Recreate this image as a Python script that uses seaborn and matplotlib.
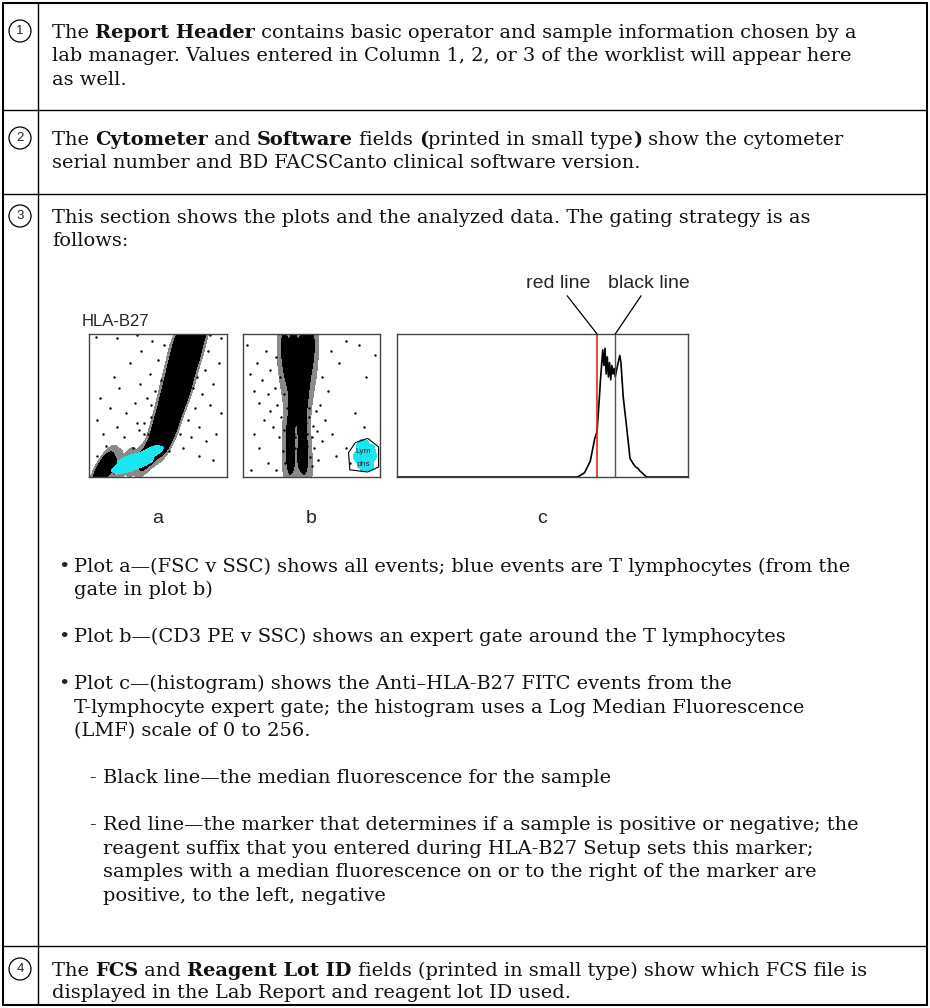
import numpy as np
import pandas as pd
import matplotlib
matplotlib.use("Agg")
import matplotlib.pyplot as plt
import seaborn as sns
from matplotlib.patches import Circle, Rectangle
from matplotlib.colors import ListedColormap

W, H = 930, 1008
sns.set_theme(style="white")
SERIF = ['DejaVu Serif', 'DejaVu Sans']
SANS = ['Liberation Sans', 'DejaVu Sans']
NARROW = ['Liberation Sans Narrow', 'Liberation Sans', 'DejaVu Sans']
plt.rcParams['font.family'] = SERIF

# ---------------- data ----------------
# Plot a: FSC-H vs SSC-A (0-100 scale)
a_dense_x = [66, 74, 81, 65, 72, 79, 64, 71, 77, 62, 69, 76, 61, 67, 74, 59, 66, 72,
             58, 64, 70, 56, 63, 69, 55, 61, 67, 53, 59, 64, 51, 57, 62, 50, 55, 60,
             48, 53, 58, 46, 51, 56, 43, 48, 35, 42, 26, 9, 12, 17, 8, 11]
a_dense_y = [100, 100, 100, 94, 94, 94, 88, 88, 88, 82, 82, 82, 76, 76, 76, 70, 70, 70,
             64, 64, 64, 58, 58, 58, 52, 52, 52, 46, 46, 46, 40, 40, 40, 34, 34, 34,
             28, 28, 28, 22, 22, 22, 17, 17, 12, 12, 9, 7, 7, 7, 5, 5]
a_sparse_x = [6, 8, 10, 12, 15, 18, 20, 22, 25, 27, 30, 32, 33, 35, 37, 38, 40, 42, 44, 45,
              46, 48, 50, 50, 52, 54, 55, 57, 60, 62, 64, 70, 72, 75, 77, 78, 80, 82, 84, 85,
              86, 88, 90, 92, 94, 96, 66, 74, 58, 68, 80, 90, 6, 8, 12, 18, 24, 30, 5, 20,
              35, 88, 96, 40, 45, 52, 36, 43]
a_sparse_y = [40, 55, 30, 22, 48, 70, 35, 62, 28, 45, 80, 20, 52, 38, 65, 88, 30, 55, 72, 42,
              95, 60, 22, 82, 68, 92, 30, 75, 40, 86, 45, 55, 40, 62, 48, 70, 35, 58, 75, 25,
              88, 50, 65, 30, 80, 45, 30, 28, 18, 20, 15, 12, 15, 10, 4, 3, 4, 5, 98, 97,
              99, 99, 97, 38, 50, 48, 33, 30]
a_cyan_x = [22, 25, 28, 31, 34, 37, 40, 43, 46, 48, 26, 30, 34, 38, 42, 45, 24, 29, 33, 37, 41]
a_cyan_y = [7, 8, 9, 10, 11, 12, 13, 15, 16, 18, 12, 13, 14, 15, 17, 19, 5, 6, 7, 9, 10]

# Plot b: CD3 PE-A vs SSC-A (0-100 scale)
b_dense_x = [30, 37, 44, 51, 29, 36, 43, 50, 30, 37, 44, 50, 31, 38, 45, 50, 32, 39, 46,
             33, 40, 46, 35, 42, 47, 37, 44, 38, 45, 40, 35, 43, 34, 44, 33, 43, 34, 44,
             35, 45, 33, 39, 45, 35, 41, 47]
b_dense_y = [100, 100, 100, 100, 94, 94, 94, 94, 88, 88, 88, 88, 82, 82, 82, 82, 76, 76, 76,
             70, 70, 70, 64, 64, 64, 58, 58, 52, 52, 46, 40, 40, 34, 34, 28, 28, 22, 22,
             16, 16, 10, 10, 10, 5, 5, 5]
b_sparse_x = [5, 8, 10, 12, 14, 15, 17, 18, 20, 20, 22, 23, 24, 25, 26, 27, 28, 29, 30, 30,
              31, 32, 33, 34, 35, 36, 37, 38, 39, 40, 41, 42, 43, 44, 45, 46, 47, 48, 49, 50,
              51, 52, 53, 54, 55, 56, 58, 60, 62, 65, 70, 75, 82, 90, 96, 68, 78, 88, 12, 18,
              8, 6, 24, 58, 64, 75, 85, 3, 33, 36, 38, 41, 43, 45, 47, 37, 42, 48, 35, 44, 50]
b_sparse_y = [72, 60, 80, 52, 68, 40, 88, 58, 46, 75, 35, 62, 84, 50, 28, 70, 42, 18, 58, 33,
              10, 48, 25, 38, 15, 45, 30, 20, 40, 12, 35, 24, 44, 17, 30, 38, 22, 42, 14, 28,
              36, 20, 46, 32, 12, 50, 25, 40, 60, 30, 80, 20, 45, 70, 85, 15, 10, 35, 20, 10,
              30, 5, 5, 70, 88, 95, 92, 92, 12, 20, 28, 18, 26, 10, 30, 36, 42, 48, 5, 3, 8]
b_cyan_x = [83, 86, 89, 92, 95, 85, 88, 91, 94, 87, 90, 93]
b_cyan_y = [14, 10, 17, 9, 15, 20, 6, 12, 19, 23, 22, 8]
gate_x = [77, 82, 91, 99, 99, 91, 78]
gate_y = [17, 24, 27, 21, 7, 3.5, 5]

# Plot c: histogram, LMF scale 0-256
c_lmf = [0, 159, 165, 170, 174, 176, 178, 179, 181, 182, 183, 184, 185, 186, 187, 188, 189,
         190, 191, 192, 194, 196, 197, 199, 202, 205, 208, 210, 212, 214, 215.5, 218, 220, 256]
c_count = [0, 0, 3, 11, 27, 32, 55, 68, 89, 78, 90, 72, 84, 70, 80, 68, 78,
           72, 76, 70, 78, 85, 80, 56, 35, 13, 9, 7, 6, 4, 3, 1, 0, 0]
red_marker = 176
median_lmf = 192

# ---------------- text ----------------
rows = [
    [[("The ", 0), ("Report Header", 1), (" contains basic operator and sample information chosen by a", 0)],
     [("lab manager. Values entered in Column 1, 2, or 3 of the worklist will appear here", 0)],
     [("as well.", 0)]],
    [[("The ", 0), ("Cytometer", 1), (" and ", 0), ("Software", 1), (" fields ", 0), ("(", 1),
      ("printed in small type", 0), (")", 1), (" show the cytometer", 0)],
     [("serial number and BD FACSCanto clinical software version.", 0)]],
    [[("This section shows the plots and the analyzed data. The gating strategy is as", 0)],
     [("follows:", 0)]],
    [[("The ", 0), ("FCS", 1), (" and ", 0), ("Reagent Lot ID", 1),
      (" fields (printed in small type) show which FCS file is", 0)],
     [("displayed in the Lab Report and reagent lot ID used.", 0)]],
]
bullets = [
    ("•", ["Plot a—(FSC v SSC) shows all events; blue events are T lymphocytes (from the",
           "gate in plot b)"]),
    ("•", ["Plot b—(CD3 PE v SSC) shows an expert gate around the T lymphocytes"]),
    ("•", ["Plot c—(histogram) shows the Anti–HLA-B27 FITC events from the",
           "T-lymphocyte expert gate; the histogram uses a Log Median Fluorescence",
           "(LMF) scale of 0 to 256."]),
    ("-", ["Black line—the median fluorescence for the sample"]),
    ("-", ["Red line—the marker that determines if a sample is positive or negative; the",
           "reagent suffix that you entered during HLA-B27 Setup sets this marker;",
           "samples with a median fluorescence on or to the right of the marker are",
           "positive, to the left, negative"]),
]

# ---------------- layout ----------------
TOP, BOT, LEFT, RIGHT, DIV = 3, 1005, 3, 927, 38
row_lines = [110, 194, 946]
row_text_y = [[31, 54.5, 78], [138, 161.5], [216, 239.5], [969, 991]]
bullet_y = [[565, 588.5], [635.5], [682.5, 706, 729.5], [776.5], [823.5, 847, 870.5, 894]]
TX = 52
BX, BTX = 58, 74
DX, DTX = 89, 103

fig = plt.figure(figsize=(W / 100, H / 100), dpi=100)
bg = fig.add_axes([0, 0, 1, 1])
bg.set_xlim(0, W)
bg.set_ylim(H, 0)
bg.axis('off')
renderer = fig.canvas.get_renderer()


def seg_width(txt, size, bold):
    kw = dict(fontsize=size, fontweight='bold' if bold else 'normal', family=SERIF)
    t1 = bg.text(0, 0, '|' + txt + '|', **kw)
    t2 = bg.text(0, 0, '||', **kw)
    w = t1.get_window_extent(renderer).width - t2.get_window_extent(renderer).width
    t1.remove()
    t2.remove()
    return w


# fit body size so the first line spans the same width as in the reference
w10 = sum(seg_width(t, 10, b) for t, b in rows[0][0])
FS = 10 * 806 / w10
BASE = 0.35 * FS * 100 / 72  # offset center -> baseline in px


def draw_line(x, yc, segs):
    for txt, bold in segs:
        bg.text(x, yc + BASE, txt, fontsize=FS, fontweight='bold' if bold else 'normal',
                family=SERIF, va='baseline', ha='left', color='#111111')
        x += seg_width(txt, FS, bold)


for r, ys in zip(rows, row_text_y):
    for segs, y in zip(r, ys):
        draw_line(TX, y, segs)

for (mark, lines), ys in zip(bullets, bullet_y):
    mx, tx = (BX, BTX) if mark == "•" else (DX, DTX)
    bg.text(mx, ys[0] + BASE, mark, fontsize=FS, family=SERIF, va='baseline', ha='left')
    for ln, y in zip(lines, ys):
        draw_line(tx, y, [(ln, 0)])

# table frame
bg.add_patch(Rectangle((LEFT, TOP), RIGHT - LEFT, BOT - TOP, fill=False, lw=1.5, ec='black'))
bg.plot([DIV, DIV], [TOP, BOT], color='black', lw=1.0)
for y in row_lines:
    bg.plot([LEFT, RIGHT], [y, y], color='black', lw=1.0)

# circled numbers
for i, ys in enumerate(row_text_y):
    cy = ys[0]
    bg.add_patch(Circle((20, cy), 11, fill=False, lw=0.9, ec='black'))
    bg.text(20, cy, str(i + 1), ha='center', va='center', fontsize=9.5, family=SANS)


# ---------------- plots ----------------
def mk_ax(l, t, r, b):
    ax = fig.add_axes([l / W, 1 - b / H, (r - l) / W, (b - t) / H])
    for s in ax.spines.values():
        s.set_color('#444444')
        s.set_linewidth(1.0)
    ax.set_xticks([])
    ax.set_yticks([])
    ax.set_facecolor('white')
    return ax


dens = ListedColormap(['#8a8a8a', 'black'])
cyan = ListedColormap(['#1ae6ef'])

axa = mk_ax(89, 334, 227, 477)
sns.kdeplot(x=a_dense_x, y=a_dense_y, ax=axa, fill=True, levels=[0.025, 0.12, 1], cmap=dens,
            bw_adjust=0.45)
sns.scatterplot(x=a_sparse_x, y=a_sparse_y, ax=axa, s=3, color='black', linewidth=0)
sns.kdeplot(x=a_cyan_x, y=a_cyan_y, ax=axa, fill=True, levels=[0.04, 1], cmap=cyan,
            bw_adjust=0.75)
axa.set_xlim(0, 100)
axa.set_ylim(0, 100)
axa.set_xlabel('FSC-H', fontsize=5.5, family=SANS, labelpad=1)
axa.set_ylabel('SSC-A', fontsize=5.5, family=SANS, labelpad=1)

axb = mk_ax(243, 334, 380, 477)
sns.kdeplot(x=b_dense_x, y=b_dense_y, ax=axb, fill=True, levels=[0.03, 0.3, 1], cmap=dens,
            bw_adjust=0.75)
sns.scatterplot(x=b_sparse_x, y=b_sparse_y, ax=axb, s=3, color='black', linewidth=0)
sns.kdeplot(x=b_cyan_x, y=b_cyan_y, ax=axb, fill=True, levels=[0.05, 1], cmap=cyan,
            bw_adjust=0.55, clip=((79, 98), (4, 26)))
axb.plot(gate_x + gate_x[:1], gate_y + gate_y[:1], color='black', lw=0.8)
axb.text(88, 18, 'Lym', fontsize=6, family=SANS, ha='center', va='center')
axb.text(88, 9, 'phs', fontsize=6, family=SANS, ha='center', va='center')
axb.set_xlim(0, 100)
axb.set_ylim(0, 100)
axb.set_xlabel('CD3 PE-A', fontsize=5.5, family=SANS, labelpad=1)
axb.set_ylabel('SSC-A', fontsize=5.5, family=SANS, labelpad=1)

axc = mk_ax(397, 334, 688, 477)
sns.lineplot(x=c_lmf, y=c_count, ax=axc, color='black', lw=1.2, estimator=None)
axc.axvline(red_marker, color='#ee2020', lw=1.2)
axc.axvline(median_lmf, color='#555555', lw=1.0)
axc.set_xlim(0, 256)
axc.set_ylim(0, 100)
axc.set_xticks([])
axc.set_yticks([])
axc.set_xlabel('Anti-HLA-B27 FITC-A', fontsize=5.5, family=SANS, labelpad=1)
axc.set_ylabel('Count', fontsize=5.5, family=SANS, labelpad=1)

arrow = dict(arrowstyle='-', lw=0.9, color='black', shrinkA=0, shrinkB=0)
axc.annotate('red line', xy=(red_marker, 1.0), xycoords=('data', 'axes fraction'),
             xytext=(558, 284), textcoords=bg.transData, ha='center', va='center',
             fontsize=14, family=NARROW, arrowprops=arrow)
axc.annotate('black line', xy=(median_lmf, 1.0), xycoords=('data', 'axes fraction'),
             xytext=(649, 284), textcoords=bg.transData, ha='center', va='center',
             fontsize=14, family=NARROW, arrowprops=arrow)

bg.text(82, 322, 'HLA-B27', fontsize=12, family=SANS, va='center', ha='left')
for ax, lab in [(axa, 'a'), (axb, 'b'), (axc, 'c')]:
    ax.text(0.5, -0.287, lab, transform=ax.transAxes, ha='center', va='center',
            fontsize=14, family=NARROW)

fig.savefig('out.png', dpi=100)
